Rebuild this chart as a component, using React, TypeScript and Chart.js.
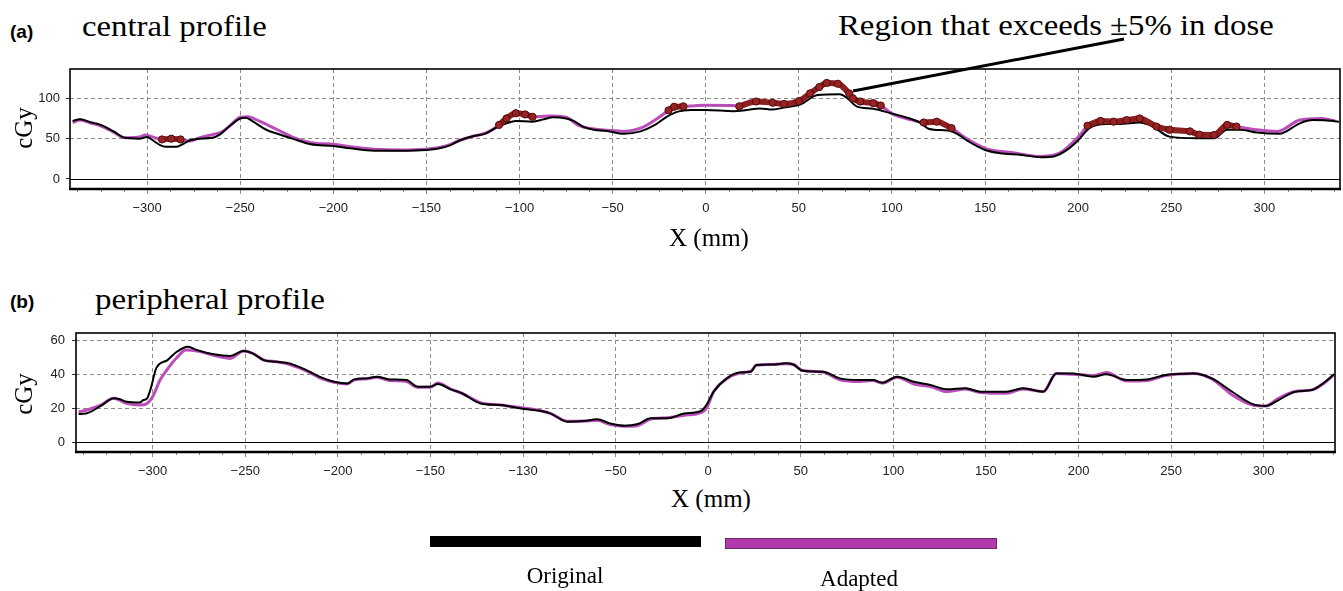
import React, { useEffect, useRef } from "react";
import { Chart, registerables } from "chart.js";

Chart.register(...registerables);

// ---------- (a) central profile ----------
const centralOrigX = [-340, -336, -330, -325, -318, -312, -304, -300, -297, -293, -290, -284, -281, -277, -272, -265, -261, -256, -250, -247, -243, -236, -230, -222, -212, -200, -191, -178, -164, -150, -143, -137, -132, -125, -118, -113, -107, -102, -93, -87, -82, -75, -71, -66, -60, -53, -44, -35, -28, -21, -15, -8, 0, 15, 22, 29, 36, 43, 51, 60, 72, 76, 81, 90, 100, 105, 115, 120, 130, 135, 140, 150, 158, 169, 180, 187, 194, 200, 206, 215, 222, 233, 240, 249, 264, 273, 280, 287, 296, 308, 319, 326, 337, 340];
const centralOrigY = [72, 74, 70, 67, 59, 51, 50, 52, 48, 42, 40, 40, 43, 48, 50, 51, 55, 65, 75, 76, 71, 61, 56, 50, 43, 41, 38, 35, 35, 36, 38, 42, 48, 53, 56.5, 63, 69, 72, 71, 74, 76.5, 75, 72, 65, 61, 59.5, 56, 59, 66, 77, 83.5, 85.5, 85.5, 84, 85.5, 87.5, 86, 89, 92.5, 104, 105, 100, 90, 87, 81, 78, 70, 62, 60, 56, 48, 36, 32, 30, 27, 28, 36, 48, 63, 68, 68, 70, 65, 52.5, 50.5, 50.5, 61, 61, 57.5, 56, 69, 73, 72, 71];
const centralAdaptX = [-340, -336, -330, -325, -318, -312, -304, -301, -297, -292, -287, -282, -277, -272, -265, -260, -255, -250, -246, -240, -230, -222, -212, -200, -191, -178, -164, -150, -143, -137, -132, -125, -118, -111, -107, -102, -97, -93, -84, -75, -68, -60, -53, -44, -35, -26, -20, -17, -12, -7, 0, 15, 18, 27, 36, 42, 50, 56, 61, 65, 71, 77, 79, 83, 90, 94, 100, 111, 117, 124, 132, 140, 150, 165, 180, 190, 201, 205, 212, 219, 226, 233, 242, 249, 260, 265, 273, 280, 285, 296, 307, 319, 330, 338];
const centralAdaptY = [70, 73, 69, 66, 58, 51, 52, 54.5, 52, 49, 50, 49, 47, 51, 55, 58, 67, 76.5, 77, 72, 61, 52, 45, 43, 40, 37, 36, 37, 39, 43, 48, 53, 57, 67, 75, 81.5, 80, 77, 78, 76.5, 66, 62, 60.5, 59, 63, 75, 85, 89.5, 90, 90.5, 91.5, 91, 90, 96, 94.5, 93, 96.5, 106, 114, 119, 118, 106, 100, 96, 94, 91, 81, 73, 70, 71, 63, 50, 38, 32.5, 28, 32, 54.5, 66, 72, 71, 73, 75, 65, 61, 59, 55, 54.5, 67, 65, 61, 59, 73, 75, 72];
const centralExceedStart = [-292, -111, -20, 18, 50, 83, 117, 205, 219, 233, 273];
const centralExceedEnd = [-282, -93, -12, 42, 79, 94, 132, 212, 226, 265, 285];
const centralXTicks = [-300, -250, -200, -150, -100, -50, 0, 50, 100, 150, 200, 250, 300];
const centralXLabels = ["−300", "−250", "−200", "−150", "−100", "−50", "0", "50", "100", "150", "200", "250", "300"];
const centralYTicks = [0, 50, 100];

// ---------- (b) peripheral profile ----------
const periphOrigX = [-340, -336, -328, -321, -318, -314, -307, -305, -303, -301, -298, -292, -287, -281, -276, -267, -258, -251, -246, -240, -233, -226, -217, -210, -202, -195, -191, -184, -179, -172, -163, -157, -150, -146, -139, -133, -123, -112, -101, -90, -85, -76, -67, -60, -53, -45, -38, -31, -22, -13, -4, -1, 3, 10, 17, 23, 26, 35, 42, 46, 51, 62, 71, 82, 89, 94, 102, 111, 120, 129, 139, 147, 161, 170, 181, 188, 197, 208, 215, 226, 237, 247, 262, 272, 283, 294, 301, 308, 317, 326, 332, 338];
const periphOrigY = [16.7, 17, 21.5, 26, 25.6, 24, 23.6, 25, 26, 32, 44, 48.6, 53.5, 56.5, 54.5, 52, 51, 54, 52.6, 48.6, 47.6, 46.6, 42.7, 38.8, 35.8, 34.8, 37.2, 37.8, 38.8, 37.2, 36.8, 32.9, 32.9, 34.4, 31.3, 29, 23, 22, 20, 18.5, 17, 12.2, 12.6, 13.6, 11.2, 9.8, 10.8, 14.2, 14.2, 17, 18.5, 22, 30, 37.8, 41.3, 41.7, 45.7, 46, 46.7, 46, 42.3, 41.7, 37.8, 36.8, 36.8, 35.2, 38.8, 35.8, 33.9, 31.3, 31.9, 29.9, 29.9, 31.9, 29.9, 40.7, 40.7, 38.8, 40.2, 36.8, 37.2, 39.8, 40.7, 37.8, 29.9, 22.6, 21.5, 25, 29.9, 30.9, 34.8, 40.2];
const periphAdaptX = [-340, -336, -328, -321, -318, -314, -307, -303, -300, -296, -291, -287, -282, -276, -267, -258, -251, -246, -240, -233, -226, -217, -210, -202, -195, -191, -184, -179, -172, -163, -157, -150, -146, -139, -133, -123, -112, -101, -90, -85, -76, -67, -60, -53, -45, -38, -31, -22, -13, -4, -1, 3, 10, 17, 23, 26, 35, 42, 46, 51, 62, 71, 82, 89, 94, 102, 111, 120, 129, 139, 147, 161, 170, 181, 188, 197, 208, 215, 226, 237, 247, 262, 272, 283, 294, 301, 308, 317, 326, 332, 338];
const periphAdaptY = [18, 19, 22, 26, 25, 23, 22, 23, 27, 36.8, 44.7, 50, 54.5, 54, 51.5, 49.6, 54, 52.6, 48.6, 47.6, 46, 42.2, 38.3, 35.5, 34.5, 37, 37.5, 38.5, 36.5, 36, 32.5, 32.5, 35, 31.5, 29, 23.5, 22, 20.5, 18.5, 17, 12.5, 12.6, 13, 10.5, 9.5, 10, 13.8, 14.5, 16, 17.5, 20, 30, 37.5, 41, 42, 45.5, 46, 46.5, 46, 42.5, 41.5, 37, 36, 36.5, 35, 38.5, 34.5, 33, 30, 31.5, 29.5, 29, 31.5, 30, 40.7, 40.2, 39.5, 41.2, 36.2, 36.5, 39.5, 40.7, 37.5, 28, 22, 21.5, 26, 30, 31, 34.5, 40];
const periphXTicks = [-300, -250, -200, -150, -100, -50, 0, 50, 100, 150, 200, 250, 300];
const periphXLabels = ["−300", "−250", "−200", "−150", "−130", "−50", "0", "50", "100", "150", "200", "250", "300"];
const periphYTicks = [0, 20, 40, 60];

const SANS = '"Liberation Sans", Arial, sans-serif';
const SERIF = '"Liberation Serif", "Times New Roman", serif';
const ORIG_COLOR = "#000000";
const ADAPT_COLOR = "#bb4dbb";
const GRID_COLOR = "#8c8c8c";

const framePlugin = {
  id: "frame",
  beforeDatasetsDraw(chart: any) {
    const { ctx, chartArea: a, scales } = chart;
    const y0 = Math.round(scales.y.getPixelForValue(0)) + 0.5;
    ctx.save();
    ctx.strokeStyle = "#000";
    ctx.lineWidth = 1;
    ctx.setLineDash([]);
    ctx.beginPath();
    ctx.moveTo(a.left, y0);
    ctx.lineTo(a.right, y0);
    ctx.stroke();
    ctx.restore();
  },
  afterDraw(chart: any) {
    const { ctx, chartArea: a, scales } = chart;
    ctx.save();
    ctx.setLineDash([]);
    ctx.strokeStyle = "#888";
    ctx.lineWidth = 1;
    for (let v = -337.5; v <= 340; v += 12.5) {
      if (v % 50 === 0) continue;
      const px = Math.round(scales.x.getPixelForValue(v)) + 0.5;
      if (px < a.left || px > a.right) continue;
      ctx.beginPath();
      ctx.moveTo(px, a.bottom);
      ctx.lineTo(px, a.bottom + 3);
      ctx.stroke();
    }
    ctx.strokeStyle = "#000";
    ctx.lineWidth = 1.6;
    ctx.strokeRect(a.left, a.top, a.right - a.left, a.bottom - a.top);
    ctx.lineWidth = 2.4;
    ctx.beginPath();
    ctx.moveTo(a.left - 1, a.bottom);
    ctx.lineTo(a.right + 1, a.bottom);
    ctx.stroke();
    ctx.restore();
  },
};

type ProfileProps = {
  top: number;
  height: number;
  padTop: number;
  padRight: number;
  yAxisWidth: number;
  xAxisHeight: number;
  yLabelPad: number;
  xMin: number;
  xMax: number;
  yMin: number;
  yMax: number;
  xTicks: number[];
  xLabels: string[];
  yTicks: number[];
  origX: number[];
  origY: number[];
  adaptX: number[];
  adaptY: number[];
  exceedStart: number[];
  exceedEnd: number[];
};

function Profile(p: ProfileProps) {
  const ref = useRef<HTMLCanvasElement>(null);
  useEffect(() => {
    const canvas = ref.current;
    if (!canvas) return;
    const orig = p.origX.map((x, i) => ({ x, y: p.origY[i] }));
    const adapt = p.adaptX.map((x, i) => ({ x, y: p.adaptY[i] }));
    const inExceed = (x: number) => p.exceedStart.some((s, i) => x >= s && x <= p.exceedEnd[i]);
    const exceed = adapt.map((pt) => ({ x: pt.x, y: inExceed(pt.x) ? pt.y : null }));
    const datasets: any[] = [];
    if (p.exceedStart.length) {
      datasets.push({
        label: "Exceeds ±5%",
        data: exceed,
        borderColor: "#8c1f1f",
        borderWidth: 6,
        borderCapStyle: "round",
        borderJoinStyle: "round",
        pointRadius: (c: any) => (c.raw && c.raw.y !== null ? 3.6 : 0),
        pointBackgroundColor: "#9b2323",
        pointBorderColor: "#4a0c0c",
        pointBorderWidth: 1,
        spanGaps: false,
        cubicInterpolationMode: "monotone",
        order: 0,
      });
    }
    datasets.push({
      label: "Original",
      data: orig,
      borderColor: ORIG_COLOR,
      borderWidth: 2,
      pointRadius: 0,
      cubicInterpolationMode: "monotone",
      order: 1,
    });
    datasets.push({
      label: "Adapted",
      data: adapt,
      borderColor: ADAPT_COLOR,
      borderWidth: 3,
      pointRadius: 0,
      cubicInterpolationMode: "monotone",
      order: 2,
    });
    const chart = new Chart(canvas, {
      type: "line",
      data: { datasets },
      options: {
        animation: false,
        responsive: false,
        maintainAspectRatio: false,
        devicePixelRatio: 1,
        layout: { padding: { top: p.padTop, right: p.padRight, left: 0, bottom: 0 } },
        plugins: { legend: { display: false }, tooltip: { enabled: false } },
        scales: {
          x: {
            type: "linear",
            min: p.xMin,
            max: p.xMax,
            afterBuildTicks: (s: any) => {
              s.ticks = p.xTicks.map((v) => ({ value: v }));
            },
            afterFit: (s: any) => {
              s.height = p.xAxisHeight;
              s.paddingLeft = 0;
              s.paddingRight = 0;
            },
            ticks: {
              autoSkip: false,
              maxRotation: 0,
              padding: 7,
              color: "#222",
              font: { family: SANS, size: 13 },
              callback: (_v: any, i: number) => p.xLabels[i],
            },
            grid: { color: GRID_COLOR, lineWidth: 1, tickLength: 5, tickColor: GRID_COLOR },
            border: { display: false, dash: [4, 3] },
          },
          y: {
            type: "linear",
            min: p.yMin,
            max: p.yMax,
            afterBuildTicks: (s: any) => {
              s.ticks = p.yTicks.map((v) => ({ value: v }));
            },
            afterFit: (s: any) => {
              s.width = p.yAxisWidth;
              s.paddingTop = 0;
              s.paddingBottom = 0;
            },
            ticks: {
              padding: p.yLabelPad,
              color: "#222",
              font: { family: SANS, size: 13 },
            },
            grid: {
              color: (c: any) => (c.tick && c.tick.value === 0 ? "rgba(0,0,0,0)" : GRID_COLOR),
              lineWidth: 1,
              tickLength: 4,
              tickColor: "#333",
            },
            border: { display: false, dash: [4, 3] },
          },
        },
      } as any,
      plugins: [framePlugin],
    });
    return () => chart.destroy();
  }, []);
  return (
    <canvas
      ref={ref}
      width={1343}
      height={p.height}
      style={{ position: "absolute", left: 0, top: p.top, width: 1343, height: p.height }}
    />
  );
}

function Txt(props: {
  x: number;
  baseline: number;
  size: number;
  family: string;
  bold?: boolean;
  align?: "left" | "center";
  sx?: number;
  children: React.ReactNode;
}) {
  const asc = props.family === SANS ? 0.8465 : 0.8375;
  const top = props.baseline - asc * props.size;
  const sx = props.sx ?? 1;
  const center = props.align === "center";
  return (
    <div
      style={{
        position: "absolute",
        left: props.x,
        top,
        fontFamily: props.family,
        fontSize: props.size,
        lineHeight: `${props.size}px`,
        fontWeight: props.bold ? 700 : 400,
        whiteSpace: "nowrap",
        color: "#000",
        transformOrigin: "0 0",
        transform: center ? `scaleX(${sx}) translateX(-50%)` : `scaleX(${sx})`,
      }}
    >
      {props.children}
    </div>
  );
}

function VTxt(props: { cx: number; cy: number; size: number; children: React.ReactNode }) {
  return (
    <div
      style={{
        position: "absolute",
        left: props.cx,
        top: props.cy,
        fontFamily: SERIF,
        fontSize: props.size,
        lineHeight: `${props.size}px`,
        whiteSpace: "nowrap",
        transform: "translate(-50%, -50%) rotate(-90deg)",
      }}
    >
      {props.children}
    </div>
  );
}

export default function App() {
  useEffect(() => {
    document.body.style.margin = "0";
  }, []);
  return (
    <div style={{ position: "absolute", left: 0, top: 0, width: 1343, height: 591, background: "#fff", overflow: "hidden" }}>
      <Profile
        top={60}
        height={165}
        padTop={9}
        padRight={3}
        yAxisWidth={70}
        xAxisHeight={36}
        yLabelPad={6}
        xMin={-341.4}
        xMax={340.6}
        yMin={-12.4}
        yMax={136.3}
        xTicks={centralXTicks}
        xLabels={centralXLabels}
        yTicks={centralYTicks}
        origX={centralOrigX}
        origY={centralOrigY}
        adaptX={centralAdaptX}
        adaptY={centralAdaptY}
        exceedStart={centralExceedStart}
        exceedEnd={centralExceedEnd}
      />
      <Profile
        top={320}
        height={165}
        padTop={13}
        padRight={8}
        yAxisWidth={76}
        xAxisHeight={33}
        yLabelPad={7}
        xMin={-341.4}
        xMax={338.5}
        yMin={-5.7}
        yMax={64.6}
        xTicks={periphXTicks}
        xLabels={periphXLabels}
        yTicks={periphYTicks}
        origX={periphOrigX}
        origY={periphOrigY}
        adaptX={periphAdaptX}
        adaptY={periphAdaptY}
        exceedStart={[]}
        exceedEnd={[]}
      />
      <Txt x={10} baseline={38} size={19} family={SANS} bold>(a)</Txt>
      <Txt x={82} baseline={36.7} size={29} family={SERIF} sx={1.13}>central profile</Txt>
      <Txt x={838} baseline={35} size={29} family={SERIF} sx={1.13}>Region that exceeds ±5% in dose</Txt>
      <Txt x={10} baseline={308.5} size={19} family={SANS} bold>(b)</Txt>
      <Txt x={95} baseline={309.3} size={30} family={SERIF} sx={1.1}>peripheral profile</Txt>
      <Txt x={709} baseline={246} size={25} family={SERIF} align="center">X (mm)</Txt>
      <Txt x={711} baseline={506.7} size={25} family={SERIF} align="center">X (mm)</Txt>
      <VTxt cx={22.5} cy={128} size={25}>cGy</VTxt>
      <VTxt cx={22.5} cy={394} size={25}>cGy</VTxt>
      <svg width={1343} height={591} style={{ position: "absolute", left: 0, top: 0, pointerEvents: "none" }}>
        <line x1={853} y1={91} x2={1124} y2={39} stroke="#000" strokeWidth={3} />
      </svg>
      <div style={{ position: "absolute", left: 430, top: 536, width: 271, height: 11, background: "#000" }} />
      <div style={{ position: "absolute", left: 725, top: 538, width: 270, height: 9, background: "#b23aad", border: "1px solid #6a2a66" }} />
      <Txt x={565} baseline={583} size={23} family={SERIF} align="center">Original</Txt>
      <Txt x={859} baseline={586} size={23} family={SERIF} align="center">Adapted</Txt>
    </div>
  );
}
